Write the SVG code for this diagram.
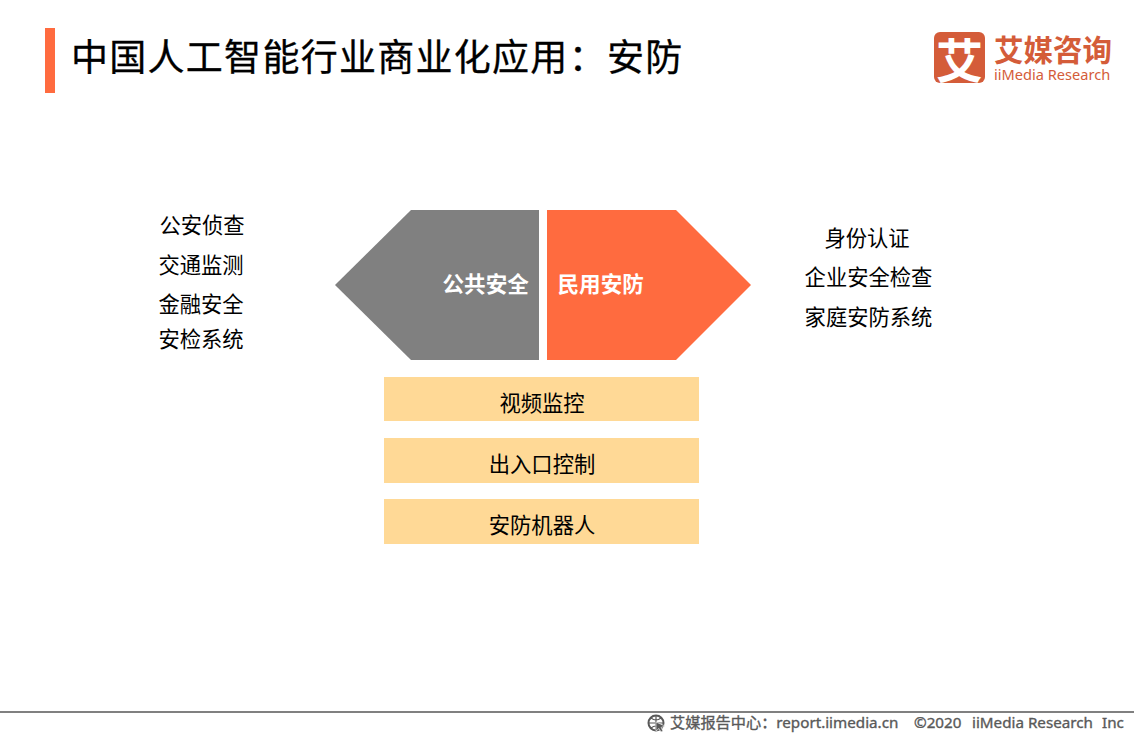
<svg xmlns="http://www.w3.org/2000/svg" width="1134" height="737" viewBox="0 0 1134 737">
<style>
text{font-family:"Noto Sans CJK SC","Microsoft YaHei",sans-serif;fill:#000}
.lab{font-size:21.300px;text-anchor:middle}
.arrow{font-size:21.600px;font-weight:700;fill:#fff}
.bar{fill:#FFD996}
.foot{font-size:15.200px;fill:#595959;stroke:#595959;stroke-width:0.350;font-family:"Noto Sans","Noto Sans CJK SC",sans-serif}
</style>
<rect width="1134" height="737" fill="#fff"/>
<g id="header">
<rect x="45" y="28" width="10" height="65" fill="#FF6B3F"/>
<text x="71" y="71" font-size="37" letter-spacing="1.280" style="stroke:#000;stroke-width:0.300">中国人工智能行业商业化应用：安防</text>
</g>
<g id="logo">
<rect x="934" y="32" width="51" height="51" rx="6" fill="#D45C39"/>
<text x="959.500" y="78" font-size="47" font-weight="700" text-anchor="middle" style="fill:#fff">艾</text>
<text x="994" y="60.500" font-size="29.500" font-weight="700" style="fill:#D45C39">艾媒咨询</text>
<text x="994" y="79.500" font-size="14.600" style="fill:#D45C39;font-family:'Noto Sans',sans-serif">iiMedia Research</text>
</g>
<g id="public-security">
<polygon points="539,210 411,210 335,285 411,360 539,360" fill="#808080"/>
<text x="442.500" y="291.500" class="arrow">公共安全</text>
</g>
<g id="civil-security">
<polygon points="547,210 676,210 751,285 676,360 547,360" fill="#FF6B3F"/>
<text x="557.500" y="291.500" class="arrow">民用安防</text>
</g>
<g id="public-items">
<text x="202" y="232.500" class="lab">公安侦查</text>
<text x="201" y="272.500" class="lab">交通监测</text>
<text x="201" y="311.500" class="lab">金融安全</text>
<text x="201" y="346.500" class="lab">安检系统</text>
</g>
<g id="civil-items">
<text x="867" y="245.500" class="lab">身份认证</text>
<text x="868.500" y="284.500" class="lab">企业安全检查</text>
<text x="868.500" y="324.500" class="lab">家庭安防系统</text>
</g>
<g id="video-surveillance">
<rect x="384" y="377" width="315" height="44" class="bar"/>
<text x="542" y="410.500" class="lab">视频监控</text>
</g>
<g id="access-control">
<rect x="384" y="438" width="315" height="45" class="bar"/>
<text x="542" y="471.500" class="lab">出入口控制</text>
</g>
<g id="security-robot">
<rect x="384" y="499" width="315" height="45" class="bar"/>
<text x="542" y="532.500" class="lab">安防机器人</text>
</g>
<g id="connectors"></g>
<g id="footer">
<rect x="0" y="711" width="1134" height="2" fill="#808080"/>
<circle cx="656" cy="723" r="7.500" fill="none" stroke="#595959" stroke-width="2"/>
<path d="M649 723H663M656 716V730M651 718Q656 722 661 718M651 728Q656 724 661 728" fill="none" stroke="#595959" stroke-width="1.200"/>
<path d="M656 722L665 726L661 727.500L663 731L661 732L659 728.500L656 731Z" fill="#595959" stroke="#fff" stroke-width="0.600"/>
<text x="670" y="728" class="foot">艾媒报告中心：report.iimedia.cn</text>
<text x="914" y="728" class="foot">©2020</text>
<text x="972" y="728" class="foot">iiMedia Research</text>
<text x="1102" y="728" class="foot">Inc</text>
</g>
</svg>
